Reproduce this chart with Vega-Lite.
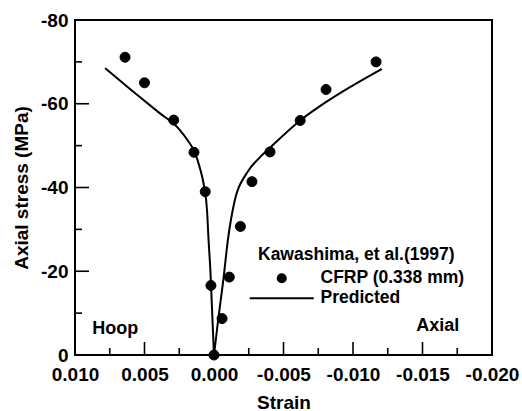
{
  "$schema": "https://vega.github.io/schema/vega-lite/v6.json",
  "width": 417,
  "height": 335,
  "autosize": "none",
  "padding": {"left": 75, "top": 20, "right": 30, "bottom": 56},
  "background": "white",
  "config": {
    "view": {"stroke": "black", "strokeWidth": 2},
    "font": "Liberation Sans",
    "axis": {
      "grid": false, "domain": false, "ticks": false,
      "labelFont": "Liberation Sans", "labelFontWeight": "bold", "labelFontSize": 19, "labelColor": "black",
      "titleFont": "Liberation Sans", "titleFontWeight": "bold", "titleFontSize": 19, "titleColor": "black"
    }
  },
  "datasets": {
    "predicted": [
      {"branch": "Hoop", "strain": 0.00784, "stress": -68.5},
      {"branch": "Hoop", "strain": 0.0060, "stress": -63.4},
      {"branch": "Hoop", "strain": 0.0040, "stress": -58.0},
      {"branch": "Hoop", "strain": 0.0025, "stress": -53.9},
      {"branch": "Hoop", "strain": 0.0019, "stress": -51.3},
      {"branch": "Hoop", "strain": 0.0014, "stress": -48.5},
      {"branch": "Hoop", "strain": 0.0010, "stress": -44.5},
      {"branch": "Hoop", "strain": 0.0007, "stress": -40.0},
      {"branch": "Hoop", "strain": 0.0005, "stress": -34.5},
      {"branch": "Hoop", "strain": 0.0004, "stress": -28.0},
      {"branch": "Hoop", "strain": 0.00025, "stress": -19.5},
      {"branch": "Hoop", "strain": 0.0001, "stress": -7.6},
      {"branch": "Hoop", "strain": 0.0, "stress": 0.0},
      {"branch": "Axial", "strain": 0.0, "stress": 0.0},
      {"branch": "Axial", "strain": -0.0003, "stress": -8.4},
      {"branch": "Axial", "strain": -0.00067, "stress": -17.9},
      {"branch": "Axial", "strain": -0.0010, "stress": -27.5},
      {"branch": "Axial", "strain": -0.0015, "stress": -37.0},
      {"branch": "Axial", "strain": -0.00235, "stress": -43.4},
      {"branch": "Axial", "strain": -0.0033, "stress": -47.2},
      {"branch": "Axial", "strain": -0.0040, "stress": -49.4},
      {"branch": "Axial", "strain": -0.0062, "stress": -56.0},
      {"branch": "Axial", "strain": -0.0081, "stress": -60.5},
      {"branch": "Axial", "strain": -0.01206, "stress": -68.3}
    ],
    "measured": [
      {"series": "CFRP (0.338 mm)", "strain": 0.0064, "stress": -71.1},
      {"series": "CFRP (0.338 mm)", "strain": 0.0050, "stress": -65.0},
      {"series": "CFRP (0.338 mm)", "strain": 0.0029, "stress": -56.1},
      {"series": "CFRP (0.338 mm)", "strain": 0.00144, "stress": -48.4},
      {"series": "CFRP (0.338 mm)", "strain": 0.00063, "stress": -39.0},
      {"series": "CFRP (0.338 mm)", "strain": 0.00022, "stress": -16.6},
      {"series": "CFRP (0.338 mm)", "strain": 0.0, "stress": 0.0},
      {"series": "CFRP (0.338 mm)", "strain": -0.00058, "stress": -8.7},
      {"series": "CFRP (0.338 mm)", "strain": -0.0011, "stress": -18.6},
      {"series": "CFRP (0.338 mm)", "strain": -0.0019, "stress": -30.7},
      {"series": "CFRP (0.338 mm)", "strain": -0.00273, "stress": -41.4},
      {"series": "CFRP (0.338 mm)", "strain": -0.00403, "stress": -48.5},
      {"series": "CFRP (0.338 mm)", "strain": -0.0062, "stress": -56.0},
      {"series": "CFRP (0.338 mm)", "strain": -0.00806, "stress": -63.4},
      {"series": "CFRP (0.338 mm)", "strain": -0.01166, "stress": -70.0}
    ],
    "notes": [
      {"label": "Hoop", "strain": 0.0071, "stress": -6.3},
      {"label": "Axial", "strain": -0.0161, "stress": -7.0}
    ],
    "xMajor": [{"strain": 0.005, "stress": 0}, {"strain": 0.0, "stress": 0}, {"strain": -0.005, "stress": 0}, {"strain": -0.01, "stress": 0}, {"strain": -0.015, "stress": 0}],
    "xMinor": [{"strain": 0.0075, "stress": 0}, {"strain": 0.0025, "stress": 0}, {"strain": -0.0025, "stress": 0}, {"strain": -0.0075, "stress": 0}, {"strain": -0.0125, "stress": 0}, {"strain": -0.0175, "stress": 0}],
    "yMajor": [{"strain": 0.01, "stress": -20}, {"strain": 0.01, "stress": -40}, {"strain": 0.01, "stress": -60}],
    "yMinor": [{"strain": 0.01, "stress": -10}, {"strain": 0.01, "stress": -30}, {"strain": 0.01, "stress": -50}, {"strain": 0.01, "stress": -70}]
  },
  "layer": [
    {
      "data": {"name": "predicted"},
      "mark": {"type": "line", "color": "black", "strokeWidth": 2, "interpolate": "monotone"},
      "encoding": {
        "x": {
          "field": "strain", "type": "quantitative",
          "scale": {"domain": [-0.02, 0.01], "reverse": true, "nice": false, "zero": false},
          "axis": {
            "orient": "bottom",
            "values": [0.01, 0.005, 0, -0.005, -0.01, -0.015, -0.02],
            "labelExpr": "replace(format(datum.value, '.3f'), '\u2212', '-')",
            "labelPadding": 10, "labelFlush": false, "labelOverlap": false,
            "title": "Strain", "titlePadding": 9
          }
        },
        "y": {
          "field": "stress", "type": "quantitative",
          "scale": {"domain": [-80, 0], "reverse": true, "nice": false, "zero": false},
          "axis": {
            "orient": "left",
            "values": [0, -20, -40, -60, -80],
            "labelExpr": "replace(format(datum.value, 'd'), '\u2212', '-')",
            "labelPadding": 7, "labelFlush": false, "labelOverlap": false,
            "title": "Axial stress (MPa)", "titlePadding": 9
          }
        },
        "detail": {"field": "branch", "type": "nominal"}
      }
    },
    {
      "data": {"name": "xMajor"},
      "mark": {"type": "point", "shape": "M-0.16,0V-2.6H0.16V0Z", "filled": true, "color": "black", "size": 100, "opacity": 1, "strokeWidth": 0},
      "encoding": {
        "x": {"field": "strain", "type": "quantitative"},
        "y": {"field": "stress", "type": "quantitative"}
      }
    },
    {
      "data": {"name": "xMinor"},
      "mark": {"type": "point", "shape": "M-0.16,0V-1.4H0.16V0Z", "filled": true, "color": "black", "size": 100, "opacity": 1, "strokeWidth": 0},
      "encoding": {
        "x": {"field": "strain", "type": "quantitative"},
        "y": {"field": "stress", "type": "quantitative"}
      }
    },
    {
      "data": {"name": "yMajor"},
      "mark": {"type": "point", "shape": "M0,-0.16H2.8V0.16H0Z", "filled": true, "color": "black", "size": 100, "opacity": 1, "strokeWidth": 0},
      "encoding": {
        "x": {"field": "strain", "type": "quantitative"},
        "y": {"field": "stress", "type": "quantitative"}
      }
    },
    {
      "data": {"name": "yMinor"},
      "mark": {"type": "point", "shape": "M0,-0.16H1.4V0.16H0Z", "filled": true, "color": "black", "size": 100, "opacity": 1, "strokeWidth": 0},
      "encoding": {
        "x": {"field": "strain", "type": "quantitative"},
        "y": {"field": "stress", "type": "quantitative"}
      }
    },
    {
      "data": {"name": "measured"},
      "mark": {"type": "point", "filled": false, "fill": "black", "stroke": "black", "fillOpacity": 1, "strokeWidth": 1, "size": 100, "opacity": 1},
      "encoding": {
        "x": {"field": "strain", "type": "quantitative"},
        "y": {"field": "stress", "type": "quantitative"},
        "shape": {
          "field": "series", "type": "nominal",
          "scale": {"domain": ["CFRP (0.338 mm)", "Predicted"], "range": ["circle", "M-6.4,-0.2H6.4V0.2H-6.4Z"]},
          "legend": {
            "orient": "none", "legendX": 183, "legendY": 226,
            "title": "Kawashima, et al.(1997)", "titleLimit": 400, "labelLimit": 400,
            "titleFont": "Liberation Sans", "titleFontWeight": "bold", "titleFontSize": 17.5, "titleColor": "black",
            "titlePadding": 6, "padding": 0,
            "labelFont": "Liberation Sans", "labelFontWeight": "bold", "labelFontSize": 17.5, "labelColor": "black",
            "symbolOffset": 15, "labelOffset": 30, "rowPadding": 1,
            "symbolSize": 100, "symbolFillColor": "black", "symbolStrokeColor": "black", "symbolStrokeWidth": 1
          }
        }
      }
    },
    {
      "data": {"name": "notes"},
      "mark": {"type": "text", "color": "black", "font": "Liberation Sans", "fontWeight": "bold", "fontSize": 18, "align": "center", "baseline": "middle"},
      "encoding": {
        "x": {"field": "strain", "type": "quantitative"},
        "y": {"field": "stress", "type": "quantitative"},
        "text": {"field": "label", "type": "nominal"}
      }
    }
  ]
}
